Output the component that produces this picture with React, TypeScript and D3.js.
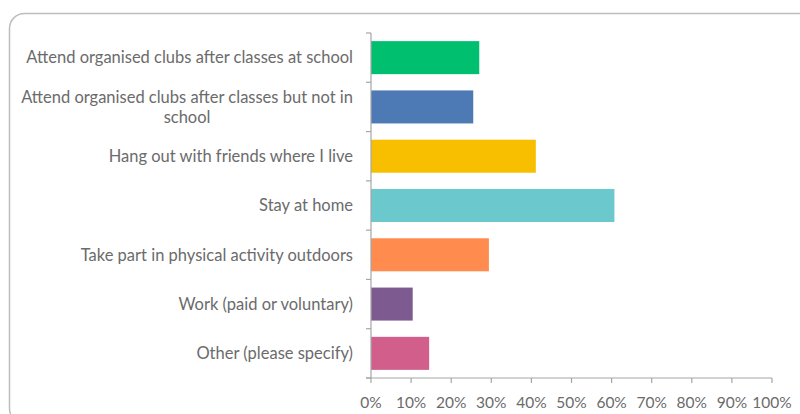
import React, { useEffect, useRef } from "react";
import * as d3 from "d3";

const categories: string[][] = [
  ["Attend organised clubs after classes at school"],
  ["Attend organised clubs after classes but not in", "school"],
  ["Hang out with friends where I live"],
  ["Stay at home"],
  ["Take part in physical activity outdoors"],
  ["Work (paid or voluntary)"],
  ["Other (please specify)"],
];
const values: number[] = [27.0, 25.5, 41.1, 60.7, 29.4, 10.4, 14.5];
const colors: string[] = ["#00BF6F", "#4D7AB4", "#F8BF00", "#6BC8CC", "#FF8B4F", "#7D5B91", "#D25E8C"];
const ticks: number[] = [0, 10, 20, 30, 40, 50, 60, 70, 80, 90, 100];

const W = 800;
const H = 414;
const FONT = "Lato, 'Open Sans', sans-serif";
const TEXT = "#6b6b6b";
const AXIS = "#a6a6a6";

export default function App() {
  const ref = useRef<SVGSVGElement>(null);
  useEffect(() => {
    const svg = d3.select(ref.current);
    svg.selectAll("*").remove();

    svg.append("rect")
      .attr("x", 9.5).attr("y", 13.5)
      .attr("width", 820).attr("height", 410)
      .attr("rx", 15)
      .attr("fill", "#fff")
      .attr("stroke", "#bdbdbd")
      .attr("stroke-width", 1.5);

    const x = d3.scaleLinear().domain([0, 100]).range([371, 772]);
    const y = d3.scaleBand<number>().domain(d3.range(categories.length)).range([33, 378]).paddingInner(0.33).paddingOuter(0.165);
    const yEdges = d3.scaleBand<number>().domain(d3.range(categories.length)).range([33, 378]);

    const g = svg.append("g");

    g.selectAll("rect.bar")
      .data(values)
      .join("rect")
      .attr("class", "bar")
      .attr("x", x(0))
      .attr("y", (_, i) => y(i)!)
      .attr("width", (d) => x(d) - x(0))
      .attr("height", y.bandwidth())
      .attr("fill", (_, i) => colors[i]);

    // y axis
    g.append("line")
      .attr("x1", x(0)).attr("x2", x(0))
      .attr("y1", 33).attr("y2", 378)
      .attr("stroke", AXIS).attr("stroke-width", 1.2);
    const edges = d3.range(categories.length + 1).map((i) => (i < categories.length ? yEdges(i)! : 378));
    g.selectAll("line.ytick")
      .data(edges)
      .join("line")
      .attr("class", "ytick")
      .attr("x1", x(0) - 5).attr("x2", x(0))
      .attr("y1", (d) => d).attr("y2", (d) => d)
      .attr("stroke", AXIS).attr("stroke-width", 1.2);

    // x axis
    g.append("line")
      .attr("x1", x(0) - 5).attr("x2", x(100))
      .attr("y1", 378).attr("y2", 378)
      .attr("stroke", AXIS).attr("stroke-width", 1.2);
    g.selectAll("line.xtick")
      .data(ticks)
      .join("line")
      .attr("class", "xtick")
      .attr("x1", (d) => x(d)).attr("x2", (d) => x(d))
      .attr("y1", 378).attr("y2", 383)
      .attr("stroke", AXIS).attr("stroke-width", 1.2);
    g.selectAll("text.xlab")
      .data(ticks)
      .join("text")
      .attr("class", "xlab")
      .attr("x", (d) => x(d))
      .attr("y", 408)
      .attr("text-anchor", "middle")
      .attr("font-family", FONT)
      .attr("font-size", 15.5)
      .attr("fill", TEXT)
      .text((d) => `${d}%`);

    // category labels
    categories.forEach((lines, i) => {
      const cy = y(i)! + y.bandwidth() / 2;
      const lh = 20;
      const startY = cy - ((lines.length - 1) * lh) / 2;
      const first = g.append("text")
        .attr("x", 353)
        .attr("y", startY)
        .attr("dy", "0.35em")
        .attr("text-anchor", "end")
        .attr("font-family", FONT)
        .attr("font-size", 16.5)
        .attr("fill", TEXT)
        .text(lines[0]);
      const w = (first.node() as SVGTextElement).getComputedTextLength();
      for (let k = 1; k < lines.length; k++) {
        g.append("text")
          .attr("x", 353 - w / 2)
          .attr("y", startY + k * lh)
          .attr("dy", "0.35em")
          .attr("text-anchor", "middle")
          .attr("font-family", FONT)
          .attr("font-size", 16.5)
          .attr("fill", TEXT)
          .text(lines[k]);
      }
    });
  }, []);

  return (
    <svg
      ref={ref}
      width={W}
      height={H}
      style={{ position: "absolute", left: 0, top: 0, display: "block" }}
    />
  );
}
